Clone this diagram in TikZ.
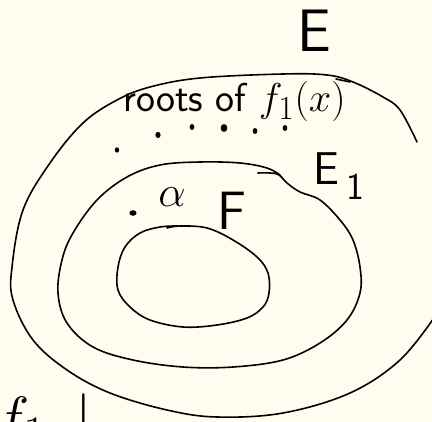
\documentclass[tikz,border=0pt]{standalone}
\usepackage{fontspec}
\usepackage{graphicx}
\usepackage{tikz}
\definecolor{bgcream}{RGB}{255,253,240}

\begin{document}
\begin{tikzpicture}[x=1pt,y=-1pt,
    stroke/.style={black,line width=1.6pt,line cap=round,line join=round},
    lab/.style={inner sep=0pt,font=\sffamily}]
  % --- page ---
  \fill[bgcream] (0,0) rectangle (432,422);
  \useasboundingbox (0,0) rectangle (432,422);
  \clip (0,0) rectangle (432,422);
  % --- outer region E (runs off the right edge) ---
  \draw[stroke] plot[smooth,tension=0.6] coordinates {(417,142) (400,110) (383,97) (353,82) (327,75) (283,74) (200,78) (150,87) (117,100) (83,123) (50,163) (23,210) (12,267) (13,300) (33,340) (67,370) (110,393) (167,410) (217,417) (283,413) (350,393) (400,360) (436,315)};
  \draw[stroke] (336,79) -- (350,82);
  % --- middle region E_1 ---
  \draw[stroke] plot[smooth,tension=0.6] coordinates {(258,173) (277,174) (287,183) (300,192) (320,200) (340,220) (353,240) (360,267) (360,293) (347,320) (320,343) (283,360) (233,367) (183,367) (133,360) (93,347) (67,323) (58,293) (62,260) (73,233) (97,200) (127,177) (160,165) (200,162) (240,163) (267,168) (280,175)};
  % --- inner region F ---
  \draw[stroke] plot[smooth,tension=0.6] coordinates {(167,228) (180,226) (207,228) (233,240) (257,257) (268,273) (269,293) (263,307) (247,318) (217,325) (183,327) (150,320) (130,307) (118,290) (118,267) (125,247) (140,233) (160,227) (178,226)};
  % --- roots ---
  \foreach \x/\y/\r in {117/150/2.2,158/135/2.6,192/127/2.4,224/128/3.3,255/131/2.4,285/128/2.4}
    \fill (\x,\y) circle[x radius=\r pt,y radius=1.2*\r pt];
  \node[lab,font=\sffamily\Huge,anchor=base west] (roots) at (123,112) {\scalebox{1.62}{roots of $f_1(x)$}};
  % --- alpha ---
  \fill (133,213) circle[x radius=3.6pt,y radius=2.8pt];
  \node[lab,font=\Huge] (alpha) at (172,197) {\scalebox{1.75}{$\alpha$}};
  % --- field labels ---
  \node[lab,font=\sffamily\fontsize{60}{60}\selectfont,anchor=base] (E) at (314,52) {E};
  \node[lab,font=\sffamily\fontsize{46}{46}\selectfont,anchor=base west] (E1) at (313,185) {E\,\raisebox{-15pt}{\fontsize{38}{38}\selectfont 1}};
  \node[lab,font=\sffamily\fontsize{54}{54}\selectfont,anchor=base] (F) at (232,230) {F};
  % --- cut-off line at the bottom ---
  \node[lab,font=\Huge,anchor=base west] (f1) at (-6,439) {\scalebox{2.4}{$f_1\ \,\vert$}};
\end{tikzpicture}
\end{document}
